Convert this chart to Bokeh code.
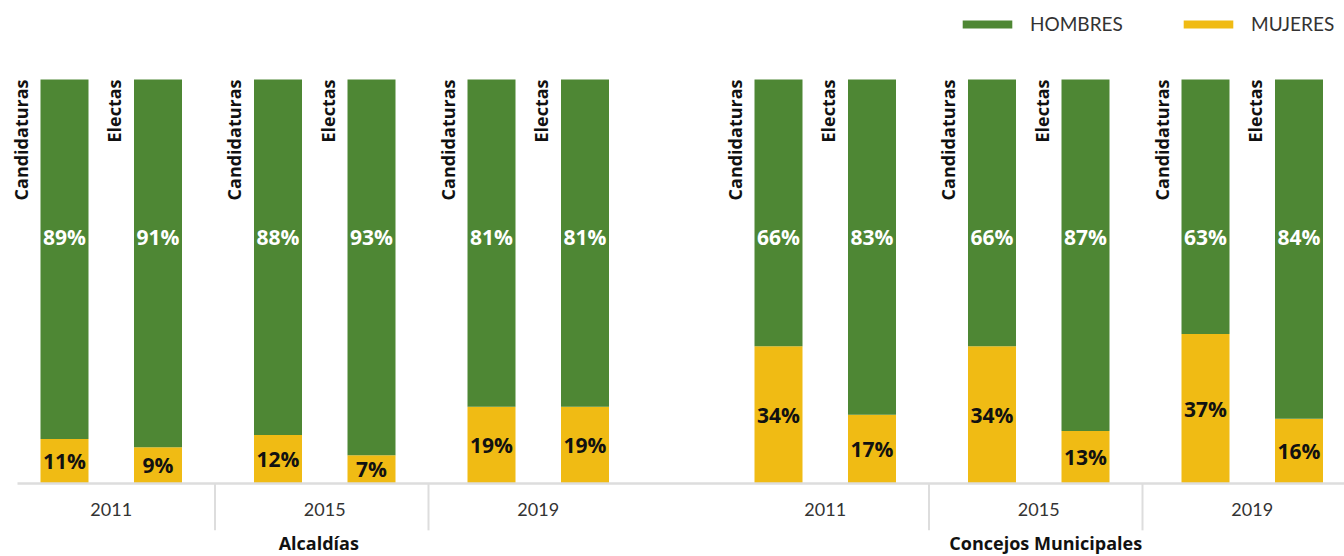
import math
from bokeh.plotting import figure
from bokeh.models import ColumnDataSource, Range1d, Legend, LegendItem
from bokeh.core.properties import value
from bokeh.embed import file_html
from bokeh.resources import INLINE

# ---- data ----
sections = ["Alcaldías", "Concejos Municipales"]
years = ["2011", "2015", "2019"]
types = ["Candidaturas", "Electas"]
hombres = [89, 91, 88, 93, 81, 81, 66, 83, 66, 87, 63, 84]
mujeres = [11, 9, 12, 7, 19, 19, 34, 17, 34, 13, 37, 16]

# ---- layout constants ----
SECTION_X0 = [64, 778]
SECTION_LABEL_DX = [-6, 7]
YEAR_STEP = 213.5
BAR_STEP = 93.5
BAR_W = 48
GREEN = "#4E8734"
YELLOW = "#F0BB14"
BOLD_FONT = "Open Sans"
LIGHT_FONT = "Lato"

xs, tlabels = [], []
year_x, year_lab, sep_x, sec_x = [], [], [], []
for s, x0 in enumerate(SECTION_X0):
    sec_xs = []
    for yi, yr in enumerate(years):
        pair = []
        for ti, t in enumerate(types):
            x = x0 + yi * YEAR_STEP + ti * BAR_STEP
            xs.append(x)
            tlabels.append(t)
            pair.append(x)
            sec_xs.append(x)
        year_x.append(sum(pair) / 2)
        year_lab.append(yr)
        if yi < len(years) - 1:
            sep_x.append(pair[1] + (YEAR_STEP - BAR_STEP) / 2 - 3)
    sec_x.append((min(sec_xs) + max(sec_xs)) / 2 + SECTION_LABEL_DX[s])

tops = [m + h for m, h in zip(mujeres, hombres)]
src = ColumnDataSource(dict(
    x=xs, h=hombres, m=mujeres, top=tops, t=tlabels,
    hl=[f"{v}%" for v in hombres], ml=[f"{v}%" for v in mujeres],
    hy=[61] * len(xs), my=[v / 2 for v in mujeres],
))

p = figure(width=1344, height=556, x_range=Range1d(0, 1344),
           y_range=Range1d(-18.07, 119.55), output_backend="svg",
           toolbar_location=None, min_border=0, outline_line_color=None,
           x_axis_location=None, y_axis_location=None)
p.grid.visible = False
p.background_fill_color = "white"
p.border_fill_color = "white"

rm = p.vbar(x="x", width=BAR_W, bottom=0, top="m", source=src,
            fill_color=YELLOW, line_color=None)
rh = p.vbar(x="x", width=BAR_W, bottom="m", top="top", source=src,
            fill_color=GREEN, line_color=None)

# percentage labels
p.text(x="x", y="hy", text="hl", source=src, text_color="white",
       text_font=value(BOLD_FONT), text_font_style="bold",
       text_font_size="21px", text_align="center", text_baseline="middle")
p.text(x="x", y="my", text="ml", source=src, text_color="#111111",
       text_font=value(BOLD_FONT), text_font_style="bold",
       text_font_size="21px", text_align="center", text_baseline="middle")

# rotated type labels
p.text(x="x", y="top", text="t", source=src, angle=math.pi / 2,
       x_offset=-44, text_color="#111111", text_font=value(BOLD_FONT),
       text_font_style="bold", text_font_size="18px",
       text_align="right", text_baseline="middle")

# baseline & separators
p.segment(x0=[17], y0=[0], x1=[1344], y1=[0], line_color="#dddddd", line_width=2.5)
p.segment(x0=sep_x, y0=[0] * len(sep_x), x1=sep_x, y1=[-11.6] * len(sep_x),
          line_color="#dddddd", line_width=2)

# year labels
p.text(x=year_x, y=[0] * len(year_x), text=year_lab, y_offset=26,
       text_color="#333333", text_font=value(LIGHT_FONT),
       text_font_size="18px", text_align="center", text_baseline="middle")
# section labels
p.text(x=sec_x, y=[0] * len(sec_x), text=sections, y_offset=60,
       text_color="#111111", text_font=value(BOLD_FONT), text_font_style="bold",
       text_font_size="18px", text_align="center", text_baseline="middle")

legend = Legend(items=[LegendItem(label="HOMBRES", renderers=[rh]),
                       LegendItem(label="MUJERES", renderers=[rm])],
                orientation="horizontal", location=(956, 521),
                glyph_width=62, glyph_height=10, label_standoff=12,
                label_width=100, spacing=47, padding=0, margin=0,
                border_line_color=None, background_fill_alpha=0,
                label_text_font=LIGHT_FONT, label_text_font_size="19px",
                label_text_color="#333333")
p.add_layout(legend)

open("out.html", "w").write(file_html(p, INLINE))
